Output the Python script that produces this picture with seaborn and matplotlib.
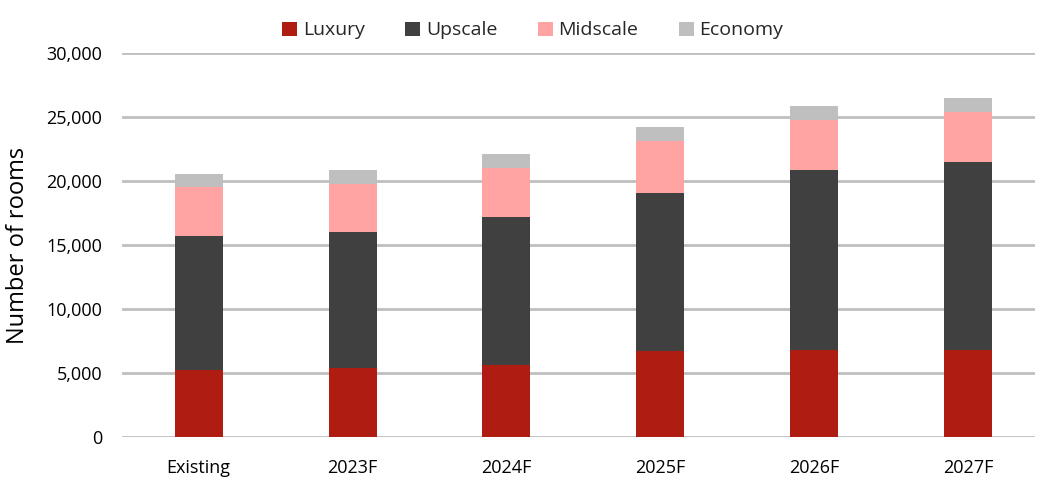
import numpy as np
import pandas as pd
import matplotlib
matplotlib.use("Agg")
import matplotlib.pyplot as plt
import seaborn as sns
from matplotlib.patches import Patch
from matplotlib.ticker import FuncFormatter

categories = ["Existing", "2023F", "2024F", "2025F", "2026F", "2027F"]
luxury   = [5200, 5400, 5600, 6700, 6800, 6800]
upscale  = [10500, 10600, 11600, 12400, 14100, 14700]
midscale = [3850, 3800, 3850, 4000, 3900, 3900]
economy  = [1000, 1100, 1100, 1100, 1100, 1100]

series_names = ["Luxury", "Upscale", "Midscale", "Economy"]
colors = ["#AE1C12", "#404040", "#FFA3A3", "#BFBFBF"]

sns.set_theme(style="white")
plt.rcParams['font.family'] = ['Open Sans', 'DejaVu Sans']

fig = plt.figure(figsize=(10.49, 4.96), dpi=100)
ax = fig.add_axes([0.116, 0.119, 0.871, 0.774])

vals = [luxury, upscale, midscale, economy]
cum = np.cumsum(np.array(vals), axis=0)

# draw from top of stack down so lower segments overlay
for i in range(3, -1, -1):
    df = pd.DataFrame({"cat": categories, "val": cum[i]})
    sns.barplot(data=df, x="cat", y="val", color=colors[i], width=0.312,
                saturation=1, ax=ax, edgecolor="none", zorder=3)

ax.set_ylim(0, 30000)
ax.set_xlim(-0.5, 5.436)
ax.set_yticks(np.arange(0, 30001, 5000))
ax.yaxis.set_major_formatter(FuncFormatter(lambda v, p: f"{int(v):,}"))
ax.grid(axis="y", color="#BFBFBF", linewidth=2, zorder=0)
ax.set_axisbelow(True)
for s in ax.spines.values():
    s.set_visible(False)
ax.tick_params(axis="both", length=0, labelsize=13, colors="#000000")
ax.tick_params(axis="y", pad=14)
ax.tick_params(axis="x", pad=16)
ax.set_xlabel("")
ax.set_ylabel("Number of rooms", fontsize=17, color="#000000", labelpad=12)

handles = [Patch(facecolor=c, edgecolor="none", label=n) for c, n in zip(colors, series_names)]
fig.legend(handles=handles, loc="upper center", bbox_to_anchor=(0.508, 0.992), ncol=4,
           frameon=False, fontsize=14, handlelength=0.75, handleheight=0.75,
           handletextpad=0.3, columnspacing=2.1)

fig.savefig("out.png", dpi=100)
